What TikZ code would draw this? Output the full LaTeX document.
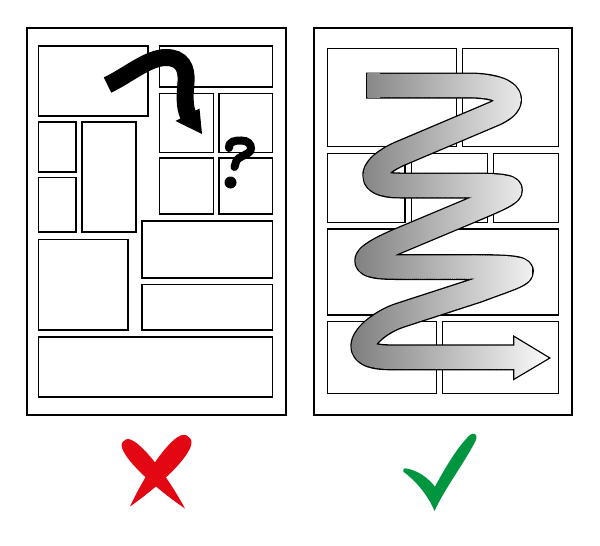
\documentclass[tikz,border=0pt]{standalone}
\definecolor{xred}{RGB}{227,6,19}
\definecolor{okgreen}{RGB}{0,150,64}
% centre line of the serpentine band
\newcommand{\serpbody}{-- (468,85.5) .. controls (512,85.5) and (521,102.3) .. (493.4,114.04) -- (400,153.6) .. controls (372,165.7) and (362,185.5) .. (400,185.5) -- (470,185.5) .. controls (530,185.5) and (516.1,191.45) .. (470,210.8) -- (400,240.2) .. controls (372.4,251.9) and (345,267) .. (395,267) -- (470,267) .. controls (552,267) and (520,274) .. (478,290) -- (400,315.3) .. controls (371.5,324.6) and (339,357.3) .. (390,357.3) -- (516,357.3)}
% discs along a straight piece / a cubic piece (union = the band)
\newcommand{\lc}[4]{foreach \q in {0,0.0125,...,1.001} {({#1+(#3-#1)*\q},{#2+(#4-#2)*\q}) circle[radius=11.75pt]}}
\newcommand{\bz}[8]{foreach \q in {0,0.0125,...,1.001} {({(1-\q)^3*#1+3*(1-\q)^2*\q*#3+3*(1-\q)*\q^2*#5+\q^3*#7},{(1-\q)^3*#2+3*(1-\q)^2*\q*#4+3*(1-\q)*\q^2*#6+\q^3*#8}) circle[radius=11.75pt]}}
\tikzset{
  pageframe/.style={draw=black, line width=2pt},
  lpanel/.style={draw=black, line width=1.6pt},
  rpanel/.style={draw=black, line width=1.4pt},
  bandshade/.style={left color=black!52, right color=white}
}
\begin{document}
\begin{tikzpicture}[x=1pt, y=-1pt]
\useasboundingbox (0,0) rectangle (600,546);
% pages
\draw[pageframe] (27,28) rectangle (286,415);
\draw[pageframe] (314,28) rectangle (572,415);
% left panels
\draw[lpanel] (38.3,46) rectangle (147.7,116);
\draw[lpanel] (159.3,46) rectangle (272.3,86.7);
\draw[lpanel] (159.3,93.3) rectangle (213.3,152.3);
\draw[lpanel] (219,93.3) rectangle (272.3,152.3);
\draw[lpanel] (159.3,157.7) rectangle (213.3,214);
\draw[lpanel] (219,157.7) rectangle (272.3,214);
\draw[lpanel] (38.3,121.7) rectangle (76,171.7);
\draw[lpanel] (38.3,177.3) rectangle (76,232);
\draw[lpanel] (81.7,121.7) rectangle (136,232);
\draw[lpanel] (141.7,221) rectangle (272.3,277.7);
\draw[lpanel] (38.3,239.3) rectangle (127.7,330);
\draw[lpanel] (141.7,284.3) rectangle (272.3,330);
\draw[lpanel] (38.3,336.7) rectangle (272.3,396.7);
% right panels
\draw[rpanel] (327.7,48.3) rectangle (456.7,146.7);
\draw[rpanel] (462.7,48.3) rectangle (558.3,146.7);
\draw[rpanel] (327.7,153.3) rectangle (405,222.3);
\draw[rpanel] (411.7,153.3) rectangle (487.7,222.3);
\draw[rpanel] (493.3,153.3) rectangle (558.3,222.3);
\draw[rpanel] (327.7,229) rectangle (558.3,315);
\draw[rpanel] (327.7,321.7) rectangle (436.7,393.3);
\draw[rpanel] (442.7,321.7) rectangle (558.3,393.3);
% confusing black arrow
\draw[line width=17pt] (107.5,85) .. controls (127,76) and (148,57.5) .. (166,57.5) .. controls (182,57.5) and (187,68) .. (186,82) .. controls (185,95) and (184,106) .. (188.5,116);
\fill (175.5,121) -- (202,134) -- (199.5,108.5) -- cycle;
% question mark
\draw[line width=8pt, line cap=round] (229,148) .. controls (229,141) and (235,140.5) .. (241,140.5) .. controls (248,140.5) and (251,144) .. (251,148.5) .. controls (251,155) and (237,156) .. (236,162) -- (234.5,167);
\fill (230.5,182.5) circle[radius=6pt];
% serpentine arrow: outline
\draw[black, line width=26pt, line join=round] (366,85.5) -- (367.3,85.5) \serpbody;
\filldraw[black, line width=2.6pt, line join=miter] (514.3,337.3) -- (548.5,358) -- (514.3,378.3) -- cycle;
% serpentine arrow: gradient body
\begin{scope}
\clip \lc{379}{85.5}{468}{85.5}
  \bz{468}{85.5}{512}{85.5}{521}{102.3}{493.4}{114.04}
  \lc{493.4}{114.04}{400}{153.6}
  \bz{400}{153.6}{372}{165.7}{362}{185.5}{400}{185.5}
  \lc{400}{185.5}{470}{185.5}
  \bz{470}{185.5}{530}{185.5}{516.1}{191.45}{470}{210.8}
  \lc{470}{210.8}{400}{240.2}
  \bz{400}{240.2}{372.4}{251.9}{345}{267}{395}{267}
  \lc{395}{267}{470}{267}
  \bz{470}{267}{552}{267}{520}{274}{478}{290}
  \lc{478}{290}{400}{315.3}
  \bz{400}{315.3}{371.5}{324.6}{339}{357.3}{390}{357.3}
  \lc{390}{357.3}{516}{357.3};
\shade[bandshade] (345,70) rectangle (555,385);
\end{scope}
\begin{scope}
\clip (367.3,73.75) rectangle (380,97.25);
\shade[bandshade] (345,70) rectangle (555,385);
\end{scope}
\begin{scope}
\clip (514.3,337.3) -- (548.5,358) -- (514.3,378.3) -- cycle;
\shade[bandshade] (345,70) rectangle (555,385);
\end{scope}
% red cross
\fill[xred] (185,508.5) .. controls (164.9,471.4) and (132.4,429.4) .. (124,441) .. controls (111.6,448.2) and (150.1,484.8) .. (185,508.5) -- cycle;
\fill[xred] (130,506.5) .. controls (164.7,482.3) and (202.7,445) .. (188.5,437) .. controls (178.2,424.4) and (147.9,468.2) .. (130,506.5) -- cycle;
% green check
\fill[okgreen] (405,468.3) .. controls (418,470) and (428,478) .. (435,486.7) .. controls (445,468) and (458,446) .. (470,435) .. controls (473,432.5) and (478,433) .. (476,440) .. controls (465,462) and (445,488) .. (434.5,511) .. controls (428,495) and (415,480) .. (403.3,471.7) .. controls (402.5,470) and (403.5,468.5) .. (405,468.3) -- cycle;
\end{tikzpicture}
\end{document}
